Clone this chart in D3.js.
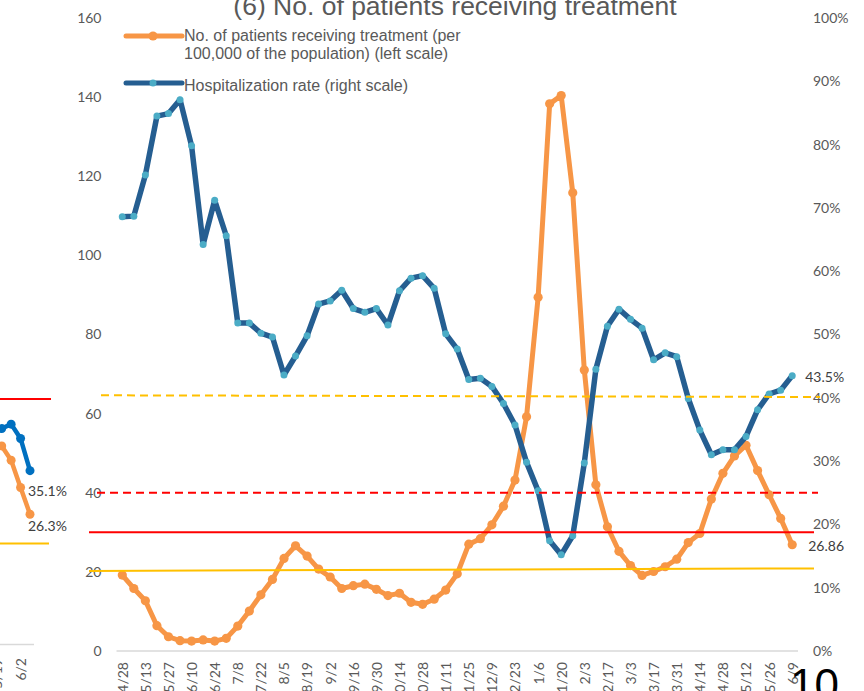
<!DOCTYPE html>
<html>
<head>
<meta charset="utf-8">
<script src="https://cdn.jsdelivr.net/npm/d3@7"></script>
<style>
  body { margin: 0; background: #fff; }
  svg { display: block; }
</style>
</head>
<body>
<div id="chart"></div>
<script>
// weekly dates, label on every other one
var dates = ["4/28","5/6","5/13","5/20","5/27","6/3","6/10","6/17","6/24","7/1",
  "7/8","7/15","7/22","7/29","8/5","8/12","8/19","8/26","9/2","9/9",
  "9/16","9/23","9/30","10/7","10/14","10/21","10/28","11/4","11/11","11/18",
  "11/25","12/2","12/9","12/16","12/23","12/30","1/6","1/13","1/20","1/27",
  "2/3","2/10","2/17","2/24","3/3","3/10","3/17","3/24","3/31","4/7",
  "4/14","4/21","4/28","5/5","5/12","5/19","5/26","6/2","6/9"];

// patients receiving treatment per 100,000 (left scale)
var patients = [19.2,15.8,12.7,6.4,3.6,2.6,2.5,2.8,2.5,3.2,
  6.3,10.1,14.2,18.1,23.4,26.6,24.0,20.7,18.7,15.8,
  16.5,16.9,15.6,14.0,14.6,12.3,11.8,13.1,15.4,19.5,
  27.0,28.4,31.9,36.6,43.2,59.2,89.4,138.3,140.4,115.8,
  71.0,42.0,31.4,25.2,21.6,19.1,20.1,21.3,23.2,27.4,
  29.7,38.4,44.9,49.3,52.0,45.6,39.5,33.5,26.86];

// hospitalization rate in % (right scale)
var hospRate = [68.6,68.7,75.2,84.5,84.9,87.1,79.8,64.2,71.2,65.6,
  51.8,51.8,50.2,49.6,43.6,46.6,49.8,54.8,55.3,57.0,
  54.1,53.5,54.1,51.5,56.9,58.9,59.3,57.3,50.1,47.7,
  42.9,43.1,41.8,39.1,35.7,29.8,25.3,17.4,15.2,18.2,
  29.7,44.5,51.3,54.0,52.4,51.0,46.0,47.1,46.5,39.9,
  34.9,31.0,31.8,31.8,33.9,38.1,40.6,41.2,43.5];

var leftTicks = [0,20,40,60,80,100,120,140,160];
var rightTicks = [0,10,20,30,40,50,60,70,80,90,100];

// threshold lines
var leftThresholds = [20, 30];      // per 100,000
var rightThresholds = [40, 25];     // %

// right edge of the previous chart on the slide
var prevDates = ["5/19","5/26","6/2","6/9"];
var prevRate = [43.6,44.5,41.6,35.1];
var prevPatients = [40.1,37.2,31.7,26.3];
var prevThresholds = [50, 20];

var orange = "#F79646";
var darkBlue = "#255E91";
var cyan = "#4BACC6";
var textGray = "#595959";
var tickFont = "Lato, 'Open Sans', sans-serif";
var labelFont = "'Liberation Sans', Arial, sans-serif";

var svg = d3.select("#chart")
  .append("svg")
  .attr("width", 864)
  .attr("height", 691);

var plot = { left: 116.5, right: 798, top: 18, bottom: 651 };

var idx = d3.range(dates.length);
var xScale = d3.scalePoint()
  .domain(idx)
  .range([plot.left, plot.right])
  .padding(0.5);

var yLeft = d3.scaleLinear().domain([0, 160]).range([plot.bottom, plot.top]);
var yRight = d3.scaleLinear().domain([0, 100]).range([plot.bottom, plot.top]);

// ---- previous chart fragment ----
var xPrev = d3.scaleLinear().domain([0, 3]).range([1.7, 30]);
var yPrev = d3.scaleLinear().domain([0, 50]).range([644.4, 396.9]);

svg.append("line")
  .attr("x1", 0).attr("x2", 51)
  .attr("y1", yPrev(prevThresholds[0]) + 2).attr("y2", yPrev(prevThresholds[0]) + 2)
  .attr("stroke", "#FF0000").attr("stroke-width", 2);
svg.append("line")
  .attr("x1", 0).attr("x2", 49)
  .attr("y1", yPrev(prevThresholds[1]) - 2).attr("y2", yPrev(prevThresholds[1]) - 2)
  .attr("stroke", "#FFC000").attr("stroke-width", 2);
svg.append("line")
  .attr("x1", 0).attr("x2", 34)
  .attr("y1", yPrev(0)).attr("y2", yPrev(0))
  .attr("stroke", "#D9D9D9").attr("stroke-width", 1.5);

var prevLine = function(vals) {
  return d3.line().x((d, i) => xPrev(i)).y(d => yPrev(d))(vals);
};
svg.append("path").attr("d", prevLine(prevPatients))
  .attr("fill", "none").attr("stroke", orange).attr("stroke-width", 4.5);
svg.selectAll(".prevP").data(prevPatients).enter().append("circle")
  .attr("cx", (d, i) => xPrev(i)).attr("cy", d => yPrev(d))
  .attr("r", 4.5).attr("fill", orange);
svg.append("path").attr("d", prevLine(prevRate))
  .attr("fill", "none").attr("stroke", "#0070C0").attr("stroke-width", 4.5);
svg.selectAll(".prevR").data(prevRate).enter().append("circle")
  .attr("cx", (d, i) => xPrev(i)).attr("cy", d => yPrev(d))
  .attr("r", 4.5).attr("fill", "#0070C0");

svg.append("text").attr("x", 28).attr("y", yPrev(prevRate[3]) + 25)
  .attr("font-family", tickFont).attr("font-size", 14).attr("fill", "#404040")
  .text(prevRate[3].toFixed(1) + "%");
svg.append("text").attr("x", 28).attr("y", yPrev(prevPatients[3]) + 17)
  .attr("font-family", tickFont).attr("font-size", 14).attr("fill", "#404040")
  .text(prevPatients[3].toFixed(1) + "%");

svg.selectAll(".prevTick").data([0, 2]).enter().append("text")
  .attr("transform", d => `translate(${d === 0 ? xPrev(d) - 5 : xPrev(d) + 1}, 658) rotate(-90)`)
  .attr("text-anchor", "end").attr("dy", "0.35em")
  .attr("font-family", tickFont).attr("font-size", 14).attr("fill", textGray)
  .text(d => prevDates[d]);

// ---- title ----
svg.append("text")
  .attr("x", 455).attr("y", 15)
  .attr("text-anchor", "middle")
  .attr("font-family", labelFont).attr("font-size", 26.5)
  .attr("fill", textGray)
  .text("(6) No. of patients receiving treatment");

// ---- axes ----
svg.append("line")
  .attr("x1", plot.left).attr("x2", plot.right)
  .attr("y1", plot.bottom).attr("y2", plot.bottom)
  .attr("stroke", "#D9D9D9").attr("stroke-width", 1.5);

var leftAxis = d3.axisLeft(yLeft).tickValues(leftTicks).tickSize(0).tickPadding(15);
var rightAxis = d3.axisRight(yRight).tickValues(rightTicks).tickSize(0).tickPadding(15)
  .tickFormat(d => d + "%");
var bottomAxis = d3.axisBottom(xScale)
  .tickValues(idx.filter(i => i % 2 === 0))
  .tickFormat(i => dates[i]).tickSize(0);

var gl = svg.append("g").attr("transform", `translate(${plot.left},0)`).call(leftAxis);
var gr = svg.append("g").attr("transform", `translate(${plot.right},0)`).call(rightAxis);
var gb = svg.append("g").attr("transform", `translate(0,${plot.bottom})`).call(bottomAxis);

[gl, gr, gb].forEach(function(g) {
  g.select(".domain").remove();
  g.selectAll("text")
    .attr("font-family", tickFont)
    .attr("font-size", 14)
    .attr("fill", textGray);
});
gb.selectAll("text")
  .attr("transform", "rotate(-90)")
  .attr("text-anchor", "end")
  .attr("x", -11)
  .attr("y", 0)
  .attr("dy", "0.35em");

// ---- series ----
var patientLine = d3.line().x((d, i) => xScale(i)).y(d => yLeft(d));
var rateLine = d3.line().x((d, i) => xScale(i)).y(d => yRight(d));

svg.append("path")
  .attr("d", patientLine(patients))
  .attr("fill", "none").attr("stroke", orange)
  .attr("stroke-width", 5).attr("stroke-linejoin", "round");
svg.selectAll(".pDot").data(patients).enter().append("circle")
  .attr("cx", (d, i) => xScale(i)).attr("cy", d => yLeft(d))
  .attr("r", 4.6).attr("fill", orange);

svg.append("path")
  .attr("d", rateLine(hospRate))
  .attr("fill", "none").attr("stroke", darkBlue)
  .attr("stroke-width", 5.5).attr("stroke-linejoin", "round");
svg.selectAll(".rDot").data(hospRate).enter().append("circle")
  .attr("cx", (d, i) => xScale(i)).attr("cy", d => yRight(d))
  .attr("r", 3.5).attr("fill", cyan);

// ---- threshold lines (hand drawn on the slide, slightly tilted) ----
svg.selectAll(".thL").data(leftThresholds).enter().append("line")
  .attr("x1", 89).attr("x2", 814)
  .attr("y1", (d, i) => yLeft(d) - (i === 0 ? 1 : 0))
  .attr("y2", (d, i) => yLeft(d) - (i === 0 ? 3.5 : 0))
  .attr("stroke", (d, i) => i === 0 ? "#FFC000" : "#FF0000")
  .attr("stroke-width", 2);
svg.selectAll(".thR").data(rightThresholds).enter().append("line")
  .attr("x1", (d, i) => i === 0 ? 101 : 97)
  .attr("x2", (d, i) => i === 0 ? 820 : 818)
  .attr("y1", (d, i) => yRight(d) - (i === 0 ? 2.5 : 0))
  .attr("y2", (d, i) => yRight(d) - (i === 0 ? 0.8 : 0))
  .attr("stroke", (d, i) => i === 0 ? "#FFC000" : "#FF0000")
  .attr("stroke-width", 2)
  .attr("stroke-dasharray", "8,5");

// ---- end labels ----
var last = dates.length - 1;
svg.append("text")
  .attr("x", xScale(last) + 13).attr("y", yRight(hospRate[last]) + 1)
  .attr("dy", "0.35em")
  .attr("font-family", tickFont).attr("font-size", 14).attr("fill", "#404040")
  .text(hospRate[last].toFixed(1) + "%");
svg.append("text")
  .attr("x", xScale(last) + 16).attr("y", yLeft(patients[last]) + 1)
  .attr("dy", "0.35em")
  .attr("font-family", tickFont).attr("font-size", 14).attr("fill", "#404040")
  .text(patients[last].toFixed(2));

// ---- legend ----
var legend = svg.append("g");
legend.append("line").attr("x1", 126).attr("x2", 182).attr("y1", 36).attr("y2", 36)
  .attr("stroke", orange).attr("stroke-width", 5).attr("stroke-linecap", "round");
legend.append("circle").attr("cx", 153).attr("cy", 36).attr("r", 4.6).attr("fill", orange);
legend.append("text").attr("x", 184).attr("y", 40.7)
  .attr("font-family", labelFont).attr("font-size", 16).attr("fill", textGray)
  .text("No. of patients receiving treatment (per");
legend.append("text").attr("x", 184).attr("y", 59.3)
  .attr("font-family", labelFont).attr("font-size", 16).attr("fill", textGray)
  .text("100,000 of the population) (left scale)");

legend.append("line").attr("x1", 126).attr("x2", 182).attr("y1", 83).attr("y2", 83)
  .attr("stroke", darkBlue).attr("stroke-width", 5).attr("stroke-linecap", "round");
legend.append("circle").attr("cx", 153).attr("cy", 83).attr("r", 3.5).attr("fill", cyan);
legend.append("text").attr("x", 184).attr("y", 90.7)
  .attr("font-family", labelFont).attr("font-size", 16).attr("fill", textGray)
  .text("Hospitalization rate (right scale)");

// slide page number
svg.append("text")
  .attr("x", 790).attr("y", 700)
  .attr("font-family", labelFont).attr("font-size", 44).attr("fill", "#000")
  .text("10");
</script>
</body>
</html>
